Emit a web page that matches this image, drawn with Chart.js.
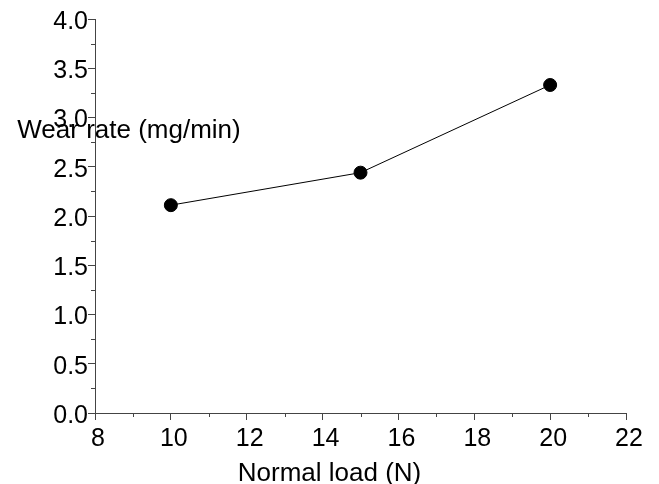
<!DOCTYPE html>
<html>
<head>
<meta charset="utf-8">
<script src="https://cdn.jsdelivr.net/npm/chart.js@4/dist/chart.umd.min.js"></script>
<style>
  html, body { margin: 0; padding: 0; background: #fff; }
  #wrap { width: 659px; height: 484px; }
</style>
</head>
<body>
<div id="wrap"><canvas id="chartCanvasId"></canvas></div>
<script>
"use strict";

// data
const loads     = [10, 15, 20]          // normal load (N)
const wearRates = [2.11, 2.44, 3.33]    // wear rate (mg/min)
const xMinorTicks = [9, 11, 13, 15, 17, 19, 21]
const yMinorTicks = [0.25, 0.75, 1.25, 1.75, 2.25, 2.75, 3.25, 3.75]

const axisColor = '#444'
const fontFamily = '"Liberation Sans", Arial, sans-serif'

// minor ticks are not a Chart.js thing, so draw them off the scales
// the axis titles are drawn here too since they don't sit where Chart.js puts them
const minorTicks = {
    id: 'minorTicks',
    afterDraw(chart) {
        const ctx = chart.ctx
        const xs = chart.scales.x
        const ys = chart.scales.y
        ctx.save()
        ctx.strokeStyle = axisColor
        ctx.lineWidth = 1
        ctx.beginPath()
        xMinorTicks.forEach(v => {
            const px = Math.round(xs.getPixelForValue(v)) + 0.5
            ctx.moveTo(px, xs.top)
            ctx.lineTo(px, xs.top + 4)
        })
        yMinorTicks.forEach(v => {
            const py = Math.round(ys.getPixelForValue(v)) + 0.5
            ctx.moveTo(ys.right, py)
            ctx.lineTo(ys.right - 4, py)
        })
        ctx.stroke()

        ctx.fillStyle = '#000'
        ctx.font = '26px ' + fontFamily
        ctx.textAlign = 'center'
        ctx.textBaseline = 'alphabetic'
        // horizontal y title, overlapping the tick labels like the original
        ctx.fillText('Wear rate (mg/min)', 129, 138)
        // x title centred on the whole canvas
        ctx.fillText('Normal load (N)', chart.width / 2, 481)
        ctx.restore()
    }
}

let chartCanvas  = document.getElementById('chartCanvasId')
let chartContext = chartCanvas.getContext('2d')

let myChart = new Chart(chartContext, {
    type: 'scatter',
    data: {
        datasets: [{
            data: loads.map((x, i) => ({ x: x, y: wearRates[i] })),
            showLine: true,
            borderColor: '#000',
            borderWidth: 1,
            pointBackgroundColor: '#000',
            pointBorderColor: '#000',
            pointRadius: 6.5,
            pointHoverRadius: 6.5,
        }]
    },
    options: {
        responsive: true,
        maintainAspectRatio: false,
        animation: false,
        events: [],
        layout: { padding: { top: 19, right: 33, left: 0, bottom: 0 } },
        plugins: {
            legend: { display: false },
            tooltip: { enabled: false },
        },
        scales: {
            x: {
                type: 'linear',
                min: 8,
                max: 22,
                afterFit: s => { s.height = 71 },
                ticks: {
                    stepSize: 2,
                    color: '#000',
                    padding: 4,
                    labelOffset: 3,
                    maxRotation: 0,
                    font: { family: fontFamily, size: 25 },
                },
                grid: {
                    drawOnChartArea: false,
                    tickLength: 7,
                    color: axisColor,
                },
                border: { color: axisColor, width: 1 },
            },
            y: {
                type: 'linear',
                min: 0,
                max: 4,
                afterFit: s => { s.width = 95 },
                ticks: {
                    stepSize: 0.5,
                    color: '#000',
                    padding: 0,
                    labelOffset: 3,
                    font: { family: fontFamily, size: 25 },
                    callback: v => v.toFixed(1),
                },
                grid: {
                    drawOnChartArea: false,
                    tickLength: 7,
                    color: axisColor,
                },
                border: { color: axisColor, width: 1 },
            }
        }
    },
    plugins: [minorTicks]
})
</script>
</body>
</html>
